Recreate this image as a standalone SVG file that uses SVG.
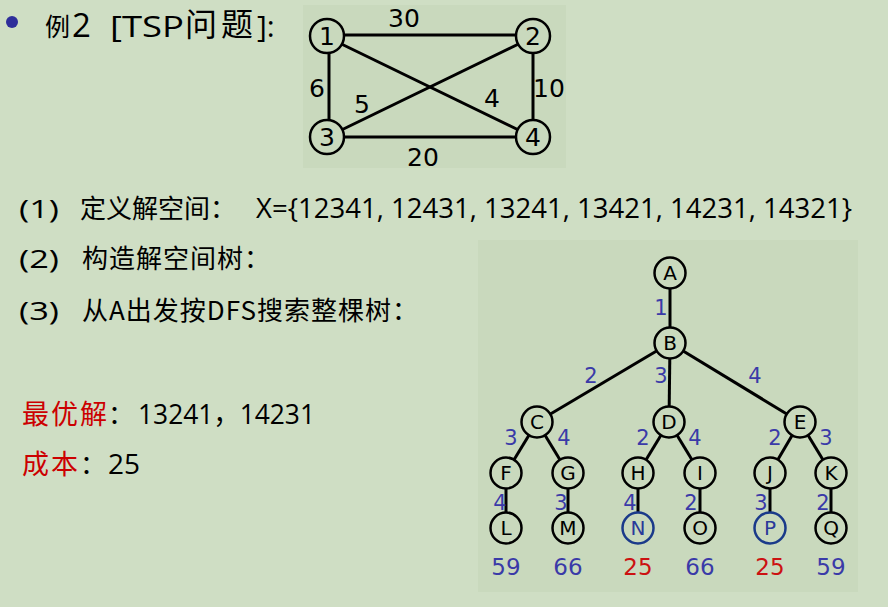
<svg xmlns="http://www.w3.org/2000/svg" width="888" height="607" viewBox="0 0 888 607">
<style>
.bg{fill:#cfdec4}
.pane{fill:#c9d9bd}
.edge{stroke:#000;stroke-width:3;fill:none}
.gn{fill:#c9d9bd;stroke:#000;stroke-width:2.5}
.gt{font-family:"DejaVu Sans",sans-serif;font-size:25px;fill:#000;text-anchor:middle}
.tn{fill:#c9d9bd;stroke:#000;stroke-width:2.5}
.tnb{fill:#c9d9bd;stroke:#1a3a8a;stroke-width:2.5}
.tt{font-family:"DejaVu Sans",sans-serif;font-size:20px;fill:#000;text-anchor:middle}
.ttb{font-family:"DejaVu Sans",sans-serif;font-size:20px;fill:#2a3a9a;text-anchor:middle}
.el{font-family:"DejaVu Sans",sans-serif;font-size:21px;fill:#3a3aa8;text-anchor:middle}
.val{font-family:"DejaVu Sans",sans-serif;font-size:23px;fill:#3a3aa8;text-anchor:middle}
.valr{font-family:"DejaVu Sans",sans-serif;font-size:23px;fill:#cc1111;text-anchor:middle}
.lat{font-family:"Open Sans","Liberation Sans","Noto Sans CJK SC",sans-serif;fill:#000}
.cjk{font-family:"Noto Sans CJK SC",sans-serif;fill:#000}
.red{fill:#cc0000}
</style>
<rect class="bg" x="0" y="0" width="888" height="607"/>
<rect class="pane" x="303" y="5" width="263" height="163"/>
<rect class="pane" x="478" y="240" width="380" height="352"/>

<g id="title">
<circle cx="12" cy="22" r="6" fill="#2e2e9a"/>
<text x="45" y="36" class="cjk" font-size="25">例</text>
<text x="72" y="37" class="lat" font-size="33">2</text>
<text x="110" y="37" class="lat" font-size="30" textLength="74" lengthAdjust="spacingAndGlyphs">[TSP</text>
<text x="185" y="36" class="cjk" font-size="32" letter-spacing="4">问题</text>
<text x="257" y="37" class="lat" font-size="30">]:</text>
</g>

<g id="graph-connectors">
<line class="edge" x1="327" y1="35" x2="533" y2="35"/>
<line class="edge" x1="327" y1="137" x2="533" y2="137"/>
<line class="edge" x1="329" y1="37" x2="329" y2="137"/>
<line class="edge" x1="533" y1="37" x2="533" y2="137"/>
<line class="edge" x1="327" y1="37" x2="533" y2="137"/>
<line class="edge" x1="533" y1="37" x2="327" y2="137"/>
</g>
<g id="g1"><circle class="gn" cx="327" cy="36" r="17"/><text class="gt" x="327" y="45">1</text></g>
<g id="g2"><circle class="gn" cx="533" cy="36" r="17"/><text class="gt" x="533" y="45">2</text></g>
<g id="g3"><circle class="gn" cx="327" cy="137" r="17"/><text class="gt" x="327" y="146">3</text></g>
<g id="g4"><circle class="gn" cx="533" cy="137" r="17"/><text class="gt" x="533" y="146">4</text></g>
<g id="graph-labels">
<text class="gt" x="404" y="27">30</text>
<text class="gt" x="317" y="97">6</text>
<text class="gt" x="362" y="113">5</text>
<text class="gt" x="492" y="107">4</text>
<text class="gt" x="549" y="97">10</text>
<text class="gt" x="423" y="166">20</text>
</g>

<g id="line1">
<text x="19" y="218" class="lat" font-size="26" textLength="40" lengthAdjust="spacingAndGlyphs">(1)</text>
<text x="80" y="218" class="cjk" font-size="26">定义解空间：</text>
<text x="256" y="218" class="lat" font-size="27" textLength="596" lengthAdjust="spacingAndGlyphs">X={12341, 12431, 13241, 13421, 14231, 14321}</text>
</g>
<g id="line2">
<text x="19" y="268" class="lat" font-size="26" textLength="40" lengthAdjust="spacingAndGlyphs">(2)</text>
<text x="82" y="268" class="cjk" font-size="26" letter-spacing="1">构造解空间树：</text>
</g>
<g id="line3">
<text x="19" y="320" class="lat" font-size="26" textLength="40" lengthAdjust="spacingAndGlyphs">(3)</text>
<text x="82" y="320" class="cjk" font-size="26" letter-spacing="1">从A出发按DFS搜索整棵树：</text>
</g>
<g id="line4">
<text x="22" y="424" class="cjk red" font-size="27" letter-spacing="2">最优解</text>
<text x="108" y="424" class="cjk" font-size="26">：</text>
<text x="138" y="424" class="lat" font-size="28" textLength="177" lengthAdjust="spacingAndGlyphs">13241，14231</text>
</g>
<g id="line5">
<text x="22" y="474" class="cjk red" font-size="27" letter-spacing="2">成本</text>
<text x="80" y="474" class="cjk" font-size="26">：</text>
<text x="108" y="474" class="lat" font-size="28" textLength="32" lengthAdjust="spacingAndGlyphs">25</text>
</g>

<g id="tree-connectors">
<line class="edge" x1="670" y1="273" x2="670" y2="343"/>
<line class="edge" x1="670" y1="343" x2="537" y2="422"/>
<line class="edge" x1="670" y1="343" x2="669" y2="422"/>
<line class="edge" x1="670" y1="343" x2="800" y2="422"/>
<line class="edge" x1="537" y1="422" x2="506" y2="473"/>
<line class="edge" x1="537" y1="422" x2="568" y2="473"/>
<line class="edge" x1="669" y1="422" x2="638" y2="473"/>
<line class="edge" x1="669" y1="422" x2="700" y2="473"/>
<line class="edge" x1="800" y1="422" x2="770" y2="473"/>
<line class="edge" x1="800" y1="422" x2="831" y2="473"/>
<line class="edge" x1="506" y1="473" x2="506" y2="528"/>
<line class="edge" x1="568" y1="473" x2="568" y2="528"/>
<line class="edge" x1="638" y1="473" x2="638" y2="528"/>
<line class="edge" x1="700" y1="473" x2="700" y2="528"/>
<line class="edge" x1="770" y1="473" x2="770" y2="528"/>
<line class="edge" x1="831" y1="473" x2="831" y2="528"/>
</g>
<g id="nA"><circle class="tn" cx="670" cy="273" r="15.5"/><text class="tt" x="670" y="280">A</text></g>
<g id="nB"><circle class="tn" cx="670" cy="343" r="15.5"/><text class="tt" x="670" y="350">B</text></g>
<g id="nC"><circle class="tn" cx="537" cy="422" r="15.5"/><text class="tt" x="537" y="429">C</text></g>
<g id="nD"><circle class="tn" cx="669" cy="422" r="15.5"/><text class="tt" x="669" y="429">D</text></g>
<g id="nE"><circle class="tn" cx="800" cy="422" r="15.5"/><text class="tt" x="800" y="429">E</text></g>
<g id="nF"><circle class="tn" cx="506" cy="473" r="15.5"/><text class="tt" x="506" y="480">F</text></g>
<g id="nG"><circle class="tn" cx="568" cy="473" r="15.5"/><text class="tt" x="568" y="480">G</text></g>
<g id="nH"><circle class="tn" cx="638" cy="473" r="15.5"/><text class="tt" x="638" y="480">H</text></g>
<g id="nI"><circle class="tn" cx="700" cy="473" r="15.5"/><text class="tt" x="700" y="480">I</text></g>
<g id="nJ"><circle class="tn" cx="770" cy="473" r="15.5"/><text class="tt" x="770" y="480">J</text></g>
<g id="nK"><circle class="tn" cx="831" cy="473" r="15.5"/><text class="tt" x="831" y="480">K</text></g>
<g id="nL"><circle class="tn" cx="506" cy="528" r="15.5"/><text class="tt" x="506" y="535">L</text></g>
<g id="nM"><circle class="tn" cx="568" cy="528" r="15.5"/><text class="tt" x="568" y="535">M</text></g>
<g id="nN"><circle class="tnb" cx="638" cy="528" r="15.5"/><text class="ttb" x="638" y="535">N</text></g>
<g id="nO"><circle class="tn" cx="700" cy="528" r="15.5"/><text class="tt" x="700" y="535">O</text></g>
<g id="nP"><circle class="tnb" cx="770" cy="528" r="15.5"/><text class="ttb" x="770" y="535">P</text></g>
<g id="nQ"><circle class="tn" cx="831" cy="528" r="15.5"/><text class="tt" x="831" y="535">Q</text></g>
<g id="tree-labels">
<text class="el" x="661" y="315">1</text>
<text class="el" x="591" y="383">2</text>
<text class="el" x="661" y="383">3</text>
<text class="el" x="755" y="383">4</text>
<text class="el" x="511" y="445">3</text>
<text class="el" x="564" y="445">4</text>
<text class="el" x="643" y="445">2</text>
<text class="el" x="695" y="445">4</text>
<text class="el" x="775" y="445">2</text>
<text class="el" x="826" y="445">3</text>
<text class="el" x="500" y="510">4</text>
<text class="el" x="561" y="510">3</text>
<text class="el" x="630" y="510">4</text>
<text class="el" x="691" y="510">2</text>
<text class="el" x="761" y="510">3</text>
<text class="el" x="823" y="510">2</text>
</g>
<g id="costs">
<text class="val" x="506" y="575">59</text>
<text class="val" x="568" y="575">66</text>
<text class="valr" x="638" y="575">25</text>
<text class="val" x="700" y="575">66</text>
<text class="valr" x="770" y="575">25</text>
<text class="val" x="831" y="575">59</text>
</g>
</svg>
